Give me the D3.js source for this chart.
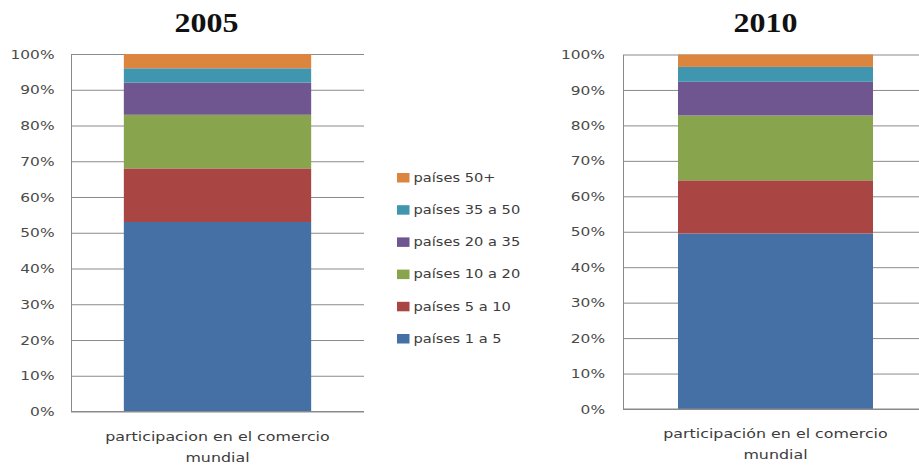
<!DOCTYPE html>
<html>
<head>
<meta charset="utf-8">
<script src="https://cdn.jsdelivr.net/npm/d3@7"></script>
<style>
  html, body { margin: 0; padding: 0; background: #ffffff; }
  svg { display: block; }
</style>
</head>
<body>
<script>
// Share of world trade by country group, 2005 vs 2010 (percent of total)
const seriesNames = ["países 1 a 5", "países 5 a 10", "países 10 a 20", "países 20 a 35", "países 35 a 50", "países 50+"];
const seriesColors = ["#4470A6", "#A94542", "#88A44D", "#6F5690", "#3F96AE", "#DC853E"];
const share2005 = [53, 15, 15, 9, 4, 4];
const share2010 = [49.5, 15, 18.3, 9.5, 4.2, 3.5];
const years = ["2005", "2010"];
const categoryLines2005 = ["participacion en el comercio", "mundial"];
const categoryLines2010 = ["participación en el comercio", "mundial"];
const tickValues = [0, 10, 20, 30, 40, 50, 60, 70, 80, 90, 100];

const W = 919, H = 469;
const svg = d3.select("body").append("svg").attr("width", W).attr("height", H);

const GRID = "#8a8a8a";
const TEXT = "#3c3c3c";

// Text that is drawn wider than the font's natural width
function wideText(parent, str, x, y, k, opts) {
  return parent.append("text")
    .attr("transform", `translate(${x},${y}) scale(${k},1)`)
    .attr("text-anchor", opts.anchor || "middle")
    .attr("font-family", opts.family || "'DejaVu Sans', Verdana, sans-serif")
    .attr("font-size", opts.size)
    .attr("font-weight", opts.weight || "normal")
    .attr("fill", opts.fill || TEXT)
    .text(str);
}

function drawPanel(p) {
  const g = svg.append("g");
  const y = d3.scaleLinear().domain([0, 100]).range([p.bottom, p.top]);
  const x = d3.scaleBand().domain([p.category]).range([p.left, p.right]).padding(0.22);

  // horizontal gridlines
  const grid = g.append("g")
    .attr("transform", `translate(${p.left},0)`)
    .call(d3.axisLeft(y).tickValues(tickValues).tickSize(-(p.right - p.left)).tickFormat(""));
  grid.select(".domain").remove();
  grid.selectAll(".tick line").attr("stroke", GRID).attr("stroke-width", 1);

  // stacked column
  const row = {};
  seriesNames.forEach((s, i) => { row[s] = p.values[i]; });
  const layers = d3.stack().keys(seriesNames)([row]);
  g.append("g").selectAll("rect")
    .data(layers)
    .join("rect")
    .attr("x", x(p.category))
    .attr("width", x.bandwidth())
    .attr("y", d => y(d[0][1]))
    .attr("height", d => y(d[0][0]) - y(d[0][1]))
    .attr("fill", (d, i) => seriesColors[i]);

  // value axis with percent labels
  const kTick = 1.34;
  const ax = g.append("g")
    .attr("transform", `translate(${p.left},0)`)
    .call(d3.axisLeft(y).tickValues(tickValues).tickSize(0).tickFormat(d => d + "%"));
  ax.select(".domain").attr("stroke", GRID).attr("stroke-width", 1);
  ax.selectAll(".tick text")
    .attr("x", -p.labelGap / kTick)
    .attr("dy", "0.36em")
    .attr("transform", `scale(${kTick},1)`)
    .attr("font-family", "'DejaVu Sans', Verdana, sans-serif")
    .attr("font-size", 11.5)
    .attr("fill", "#4a4a4a");

  // baseline
  g.append("line")
    .attr("x1", p.left).attr("x2", p.right)
    .attr("y1", y(0)).attr("y2", y(0))
    .attr("stroke", GRID).attr("stroke-width", 1.2);

  // category label under the column
  const cx = x(p.category) + x.bandwidth() / 2;
  p.lines.forEach((line, i) => {
    wideText(g, line, cx, p.labelBase + i * 21, 1.22, { size: 13 });
  });

  // year title, set a little left of the column centre
  g.append("text")
    .attr("x", cx - p.titleShift).attr("y", 31.5)
    .attr("text-anchor", "middle")
    .attr("font-family", "'Liberation Serif', 'Times New Roman', serif")
    .attr("font-size", 28)
    .attr("font-weight", "bold")
    .attr("fill", "#111")
    .attr("textLength", 64)
    .attr("lengthAdjust", "spacingAndGlyphs")
    .text(p.title);
}

drawPanel({
  title: years[0], values: share2005, category: categoryLines2005.join(" "),
  lines: categoryLines2005, titleShift: 11,
  left: 71, right: 364, top: 54, bottom: 411.5, labelGap: 16.5, labelBase: 441
});
drawPanel({
  title: years[1], values: share2010, category: categoryLines2010.join(" "),
  lines: categoryLines2010, titleShift: 10,
  left: 623, right: 928, top: 54.5, bottom: 409, labelGap: 18, labelBase: 437.5
});

// legend, top entry is the last series
const legend = svg.append("g");
const legendOrder = seriesNames.map((s, i) => i).reverse();
legendOrder.forEach((si, row) => {
  const cy = 177.5 + row * 32.2;
  legend.append("rect")
    .attr("x", 397).attr("y", cy - 4.5)
    .attr("width", 12.5).attr("height", 9.5)
    .attr("fill", seriesColors[si]);
  wideText(legend, seriesNames[si], 413.5, cy + 4.3, 1.22, { size: 12, anchor: "start" });
});
</script>
</body>
</html>
